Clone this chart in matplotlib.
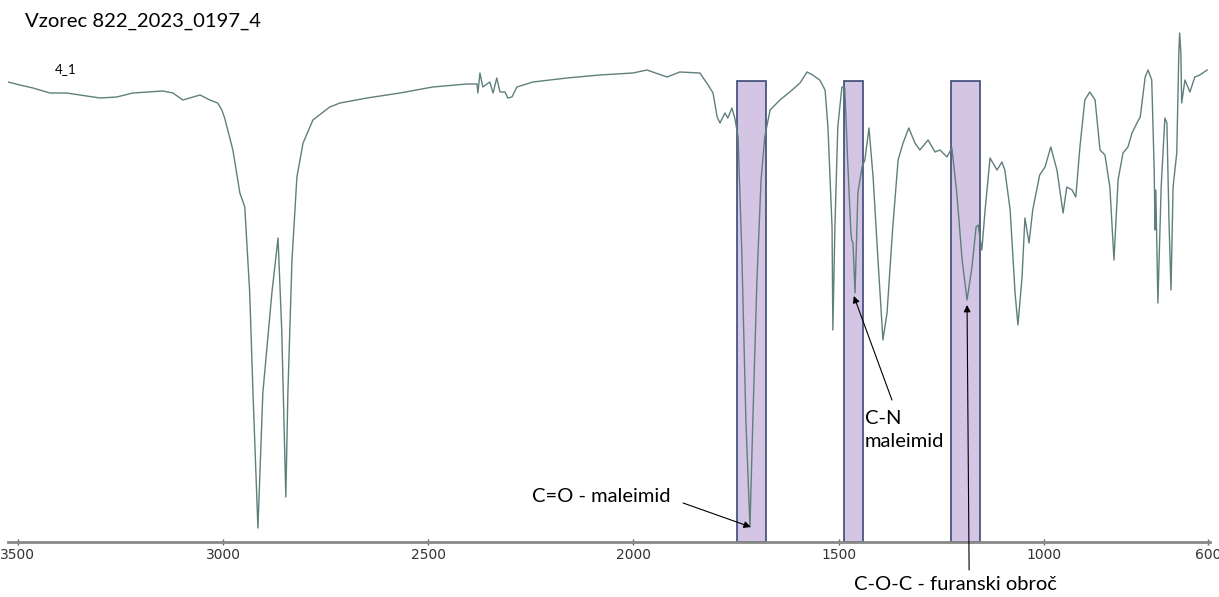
import matplotlib
matplotlib.use("Agg")
import matplotlib.pyplot as plt
from matplotlib.patches import Rectangle

# IR spectrum (wavenumber cm-1, transmittance a.u.)
wavenumber = [3524, 3495, 3463, 3422, 3381, 3300, 3259, 3220, 3147, 3122, 3098, 3056,
              3032, 3013, 3003, 2996, 2976, 2959, 2947, 2935, 2927, 2918, 2915, 2903,
              2881, 2866, 2857, 2847, 2842, 2832, 2820, 2805, 2781, 2740, 2715, 2649,
              2569, 2489, 2406, 2381, 2379, 2374, 2367, 2350, 2342, 2333, 2325, 2313,
              2306, 2296, 2284, 2245, 2162, 2082, 2001, 1967, 1918, 1887, 1838, 1818,
              1806, 1796, 1789, 1777, 1770, 1760, 1753, 1745, 1736, 1726, 1716, 1709,
              1699, 1689, 1680, 1667, 1643, 1619, 1594, 1577, 1563, 1546, 1533, 1526,
              1516, 1514, 1509, 1502, 1492, 1485, 1478, 1470, 1468, 1465, 1460, 1453,
              1443, 1436, 1426, 1416, 1404, 1392, 1382, 1368, 1355, 1343, 1329, 1314,
              1302, 1282, 1265, 1253, 1236, 1224, 1212, 1199, 1187, 1175, 1165, 1160,
              1151, 1143, 1131, 1114, 1102, 1095, 1082, 1070, 1063, 1053, 1046, 1036,
              1027, 1010, 997, 983, 968, 953, 944, 931, 922, 912, 900, 888,
              875, 863, 851, 839, 829, 819, 807, 795, 785, 773, 765, 753,
              746, 737, 731, 729, 727, 722, 714, 705, 700, 695, 690, 685,
              676, 671, 669, 666, 664, 656, 644, 632, 620, 602]
transmittance = [92.0, 91.4, 90.8, 89.8, 89.8, 88.8, 89.0, 89.8, 90.2, 89.8, 88.4, 89.4,
                 88.4, 87.8, 86.4, 84.8, 78.4, 69.8, 67.0, 49.8, 29.8, 9.8, 2.8, 29.8,
                 49.8, 60.8, 42.4, 9.0, 29.8, 56.4, 73.0, 79.8, 84.4, 87.0, 87.8, 88.8,
                 89.8, 91.0, 91.6, 91.6, 89.8, 93.8, 91.0, 92.0, 89.8, 92.8, 90.0, 90.0,
                 88.8, 89.0, 91.0, 92.0, 92.8, 93.4, 93.8, 94.4, 93.0, 94.0, 93.8, 91.4,
                 89.8, 85.0, 83.8, 85.8, 84.8, 86.8, 84.8, 81.0, 58.4, 24.4, 3.0, 24.4,
                 52.4, 72.4, 81.0, 86.4, 88.4, 90.0, 91.8, 94.0, 93.4, 92.4, 90.4, 83.0,
                 63.0, 42.4, 63.0, 83.0, 91.0, 90.8, 76.4, 61.8, 60.4, 59.8, 49.8, 69.8,
                 75.0, 76.4, 82.8, 73.0, 56.4, 40.4, 45.8, 63.0, 76.4, 79.8, 82.8, 79.8,
                 78.4, 80.4, 78.0, 78.4, 77.0, 78.8, 69.8, 56.4, 48.4, 55.0, 63.0, 63.4,
                 58.4, 66.4, 76.8, 74.4, 76.0, 74.4, 66.4, 49.8, 43.4, 53.0, 64.8, 59.8,
                 66.4, 73.4, 75.0, 79.0, 74.4, 65.8, 71.0, 70.4, 69.0, 79.0, 88.4, 90.0,
                 88.4, 78.4, 77.4, 71.0, 56.4, 72.4, 77.8, 79.0, 81.8, 83.8, 85.0, 93.0,
                 94.4, 92.4, 74.4, 62.4, 70.4, 47.8, 71.0, 84.8, 83.8, 64.4, 50.4, 71.0,
                 77.8, 97.8, 101.8, 97.8, 87.8, 92.4, 90.0, 93.0, 93.4, 94.4]

# highlighted bands (high, low wavenumber)
band_hi = [1748, 1487, 1226]
band_lo = [1677, 1441, 1156]
band_top = 92.2

xticks = [3500, 3000, 2500, 2000, 1500, 1000, 600]

fig = plt.figure(figsize=(12.19, 5.97), dpi=100)
ax = fig.add_axes([8 / 1219, 1 - 542 / 597, 1202 / 1219, 512 / 597])
ax.set_xlim(3524, 595)
ax.set_ylim(0, 102.4)

for hi, lo in zip(band_hi, band_lo):
    ax.add_patch(Rectangle((lo, 0), hi - lo, band_top, facecolor="#d5c5e5",
                           edgecolor="#3b4a78", lw=1.2, zorder=1))

ax.plot(wavenumber, transmittance, color="#5f7f7d", lw=1.0, zorder=2)

for s in ["left", "top", "right"]:
    ax.spines[s].set_visible(False)
ax.spines["bottom"].set_color("#888888")
ax.spines["bottom"].set_linewidth(2)
ax.set_yticks([])
ax.set_xticks(xticks)
ax.set_xticklabels([str(t) for t in xticks], family=["Liberation Sans Narrow", "DejaVu Sans"],
                   fontsize=10, color="#333333")
ax.tick_params(axis="x", direction="inout", length=5, width=1, color="#666666", pad=2)

font = ["Lato", "DejaVu Sans"]
fs = 14.5
arrow = dict(arrowstyle="-|>", color="black", lw=0.8, mutation_scale=10,
             shrinkA=0, shrinkB=0)

# C=O - maleimid
ax.text(2078, 9.0, "C=O - maleimid", family=font, fontsize=fs, ha="center", va="center")
ax.annotate("", xy=(1714, 3.0), xytext=(1879, 7.8), arrowprops=arrow)

# C-N maleimid
ax.text(1436, 22.4, "C-N\nmaleimid", family=font, fontsize=fs, ha="left", va="center",
        linespacing=1.4)
ax.annotate("", xy=(1463, 49.2), xytext=(1370, 28.4), arrowprops=arrow)

# C-O-C - furanski obroč
ax.text(1216, -8.4, "C-O-C - furanski obroč", family=font, fontsize=fs, ha="center",
        va="center", clip_on=False)
ax.annotate("", xy=(1187, 47.4), xytext=(1182, -5.6), arrowprops=arrow,
            annotation_clip=False)

fig.text(25 / 1219, 1 - 21 / 597, "Vzorec 822_2023_0197_4", family=font, fontsize=14.6,
         ha="left", va="center")
fig.text(55 / 1219, 1 - 69 / 597, "4_1", family=font, fontsize=9.5, ha="left", va="center")

fig.savefig("out.png", dpi=100)
